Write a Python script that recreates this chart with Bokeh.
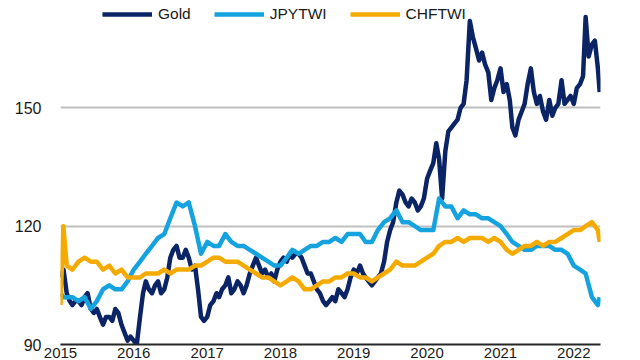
import pandas as pd
from bokeh.plotting import figure
from bokeh.models import Range1d, FixedTicker, Legend, LegendItem, DatetimeTickFormatter
from bokeh.embed import file_html
from bokeh.resources import INLINE

# ---------------- data ----------------
# Gold: two readings per month (1st and 16th)
gold_dates = ([f"{m.strftime('%Y-%m')}-{d}" for m in pd.date_range("2015-01-01", "2022-04-01", freq="MS")
               for d in ("01", "16")]
              + ["2022-05-01", "2022-05-10"])
gold = [107, 109, 103, 101, 100, 101, 101, 100, 102, 103, 99, 98,
        99, 97, 95, 97, 97, 96, 99, 98, 95, 93, 91, 92,          # 2015
        91, 90, 97, 103, 106, 104, 103, 105, 106, 103, 104, 107,
        112, 114, 115, 112, 112, 114, 112, 109, 110, 104, 97, 96,  # 2016
        97, 100, 101, 103, 102, 104, 105, 107, 103, 104, 106, 105,
        103, 105, 108, 110, 112, 110, 108, 109, 107, 108, 106, 109,  # 2017
        111, 112, 111, 113, 112, 113, 113, 112, 110, 108, 108, 106,
        104, 103, 101, 100, 101, 102, 101, 104, 103, 102, 104, 107,  # 2018
        109, 108, 110, 108, 107, 106, 105, 106, 107, 108, 111, 116,
        119, 121, 126, 129, 128, 126, 125, 127, 126, 124, 125, 127,  # 2019
        132, 134, 136, 141, 137, 127, 139, 144, 145, 146, 147, 150,
        151, 157, 172, 168, 165, 162, 164, 161, 159, 152, 155, 157,  # 2020
        160, 154, 156, 152, 145, 143, 147, 149, 151, 156, 160, 154,
        151, 153, 149, 147, 152, 148, 150, 151, 157, 151, 152, 153,  # 2021
        151, 155, 156, 158, 173, 163, 166, 167, 160, 154]           # 2022

# JPYTWI and CHFTWI: monthly readings
date_labels = (["2015-01-01", "2015-01-15"]
               + [d.strftime("%Y-%m-%d") for d in pd.date_range("2015-02-01", "2022-05-01", freq="MS")]
               + ["2022-05-10"])

jpytwi = [103, 102, 102, 102, 101, 102, 99, 101, 104, 105, 104, 104, 106,
          109, 111, 113, 115, 117, 118, 122, 126, 125, 126, 120, 113,
          116, 115, 115, 118, 116, 115, 115, 114, 113, 112, 111, 110,
          110, 112, 114, 113, 114, 115, 115, 116, 116, 117, 116, 118,
          118, 118, 116, 116, 119, 121, 122, 124, 121, 121, 120, 119,
          119, 119, 127, 125, 125, 122, 124, 123, 123, 122, 122, 121,
          120, 118, 116, 115, 114, 114, 115, 115, 115, 114, 114, 113,
          110, 109, 108, 102, 100, 102]

chftwi = [100, 120, 110, 109, 111, 112, 111, 111, 109, 110, 108, 109, 107,
          107, 107, 108, 108, 108, 109, 108, 109, 109, 109, 110, 110,
          111, 112, 112, 111, 111, 111, 110, 109, 108, 107, 107, 106,
          105, 106, 107, 106, 104, 104, 105, 106, 106, 107, 107, 108,
          108, 107, 107, 106, 107, 108, 109, 111, 110, 110, 110, 111,
          112, 113, 115, 116, 116, 117, 116, 117, 117, 117, 116, 117,
          116, 114, 113, 114, 115, 115, 116, 115, 116, 116, 117, 118,
          119, 119, 120, 121, 119, 116]

series_names = ["Gold", "JPYTWI", "CHFTWI"]
series_colors = ["#0b2466", "#14a3df", "#f5aa00"]

years = ["2015", "2016", "2017", "2018", "2019", "2020", "2021", "2022"]
y_ticks = [90, 120, 150]

# ---------------- figure ----------------
year_ms = [pd.Timestamp(y + "-01-01").value / 1e6 for y in years]

FONT = "Liberation Sans"
TEXT_COLOR = "#1a1a1a"

p = figure(width=640, height=360, x_axis_type="datetime",
           output_backend="svg", toolbar_location=None,
           x_range=Range1d(pd.Timestamp("2015-01-01"), pd.Timestamp("2022-05-14")),
           y_range=Range1d(90, 177.2),
           min_border_left=60, min_border_right=40, min_border_top=0, min_border_bottom=0)

p.outline_line_color = None
p.background_fill_color = "white"
p.border_fill_color = "white"

p.xgrid.visible = False
p.ygrid.ticker = FixedTicker(ticks=y_ticks[1:])
p.ygrid.grid_line_color = "#bfbfbf"
p.ygrid.grid_line_width = 2

# x axis (black baseline with year labels)
p.xaxis.ticker = FixedTicker(ticks=year_ms)
p.xaxis.formatter = DatetimeTickFormatter(years="%Y", months="%Y", days="%Y", hours="%Y",
                                          minutes="%Y", seconds="%Y", milliseconds="%Y",
                                          microseconds="%Y", minsec="%Y", hourmin="%Y")
p.xaxis.axis_line_color = "#262626"
p.xaxis.axis_line_width = 2
p.xaxis.major_tick_line_color = None
p.xaxis.minor_tick_line_color = None
p.xaxis.major_tick_out = 0
p.xaxis.major_tick_in = 0
p.xaxis.major_label_standoff = 3
p.xaxis.major_label_text_font = FONT
p.xaxis.major_label_text_font_size = "15px"
p.xaxis.major_label_text_color = TEXT_COLOR

# y axis
p.yaxis.ticker = FixedTicker(ticks=y_ticks)
p.yaxis.axis_line_color = None
p.yaxis.major_tick_line_color = None
p.yaxis.minor_tick_line_color = None
p.yaxis.major_tick_out = 0
p.yaxis.major_tick_in = 0
p.yaxis.major_label_standoff = 19
p.yaxis.major_label_text_font = FONT
p.yaxis.major_label_text_font_size = "16px"
p.yaxis.major_label_text_color = TEXT_COLOR

series = [(pd.to_datetime(gold_dates), gold),
          (pd.to_datetime(date_labels), jpytwi),
          (pd.to_datetime(date_labels), chftwi)]

renderers = []
for name, (xs, vals), col in zip(series_names, series, series_colors):
    r = p.line(xs, vals, line_width=4.5, line_color=col, line_join="round")
    renderers.append(r)

legend = Legend(items=[LegendItem(label=n, renderers=[r]) for n, r in zip(series_names, renderers)],
                orientation="horizontal", location=(42, 321),
                border_line_color=None, background_fill_alpha=0,
                padding=0, margin=0, spacing=23, label_standoff=6,
                glyph_width=50, glyph_height=16, label_height=16,
                label_text_font=FONT, label_text_font_size="15.5px",
                label_text_color=TEXT_COLOR)
p.add_layout(legend)

open("out.html", "w").write(file_html(p, INLINE))
